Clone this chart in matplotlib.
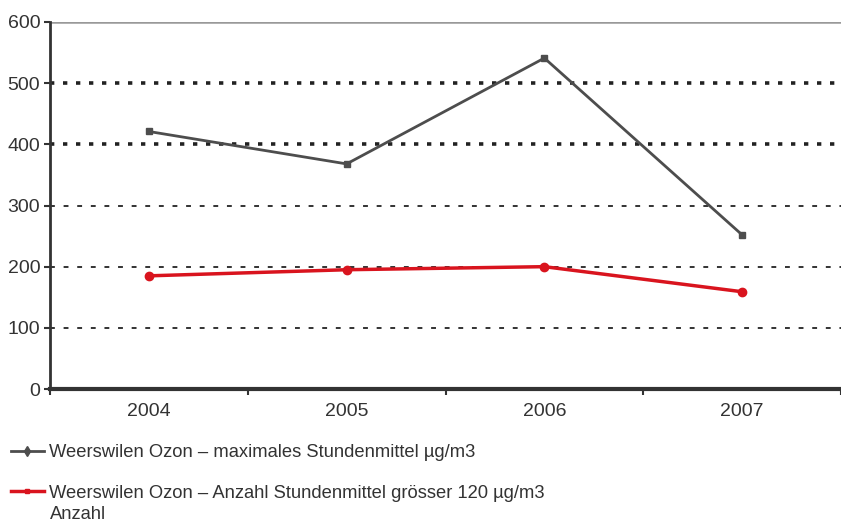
import matplotlib
matplotlib.use("Agg")
import matplotlib.pyplot as plt
from matplotlib.lines import Line2D

years = ["2004", "2005", "2006", "2007"]
max_stundenmittel = [421, 368, 541, 252]
anzahl_stundenmittel = [185, 195, 200, 159]
y_ticks = [0, 100, 200, 300, 400, 500, 600]
label_max = "Weerswilen Ozon – maximales Stundenmittel µg/m3"
label_anz = "Weerswilen Ozon – Anzahl Stundenmittel grösser 120 µg/m3"
label_anz2 = "Anzahl"

plt.rcParams['font.family'] = ['Liberation Sans', 'DejaVu Sans']

fig = plt.figure(figsize=(8.41, 5.23), dpi=100)
ax = fig.add_axes([50/841, 1-389/523, (841-50)/841, (389-22)/523])

x = list(range(len(years)))
ax.set_xlim(-0.5, 3.5)
ax.set_ylim(0, 600)

# grid lines
for v in y_ticks[1:]:
    if v in (400, 500):
        ax.axhline(v, color='#222222', lw=2.6, ls=(0, (1.2, 2.4)), zorder=1)
    elif v == 600:
        ax.axhline(v, color='#999999', lw=1.8, zorder=1)
    else:
        ax.axhline(v, color='#333333', lw=1.4, ls=(0, (2.5, 4.5)), zorder=1)

c_gray = '#4d4d4d'
c_red = '#d9141e'
ax.plot(x, max_stundenmittel, color=c_gray, lw=2, marker='s', ms=5, zorder=3)
ax.plot(x, anzahl_stundenmittel, color=c_red, lw=2.5, marker='o', ms=6, zorder=3)

fs_tick = 14
ax.set_yticks(y_ticks)
ax.set_yticklabels([str(v) for v in y_ticks], fontsize=fs_tick, color='#333333')
ax.set_xticks([i - 0.5 for i in range(len(years) + 1)])
ax.set_xticklabels([])
ax.set_xticks(x, minor=True)
ax.set_xticklabels(years, minor=True, fontsize=fs_tick, color='#333333')
ax.tick_params(axis='x', which='minor', length=0, pad=10)
ax.tick_params(axis='x', which='major', length=4, width=1.5, color='#333333', direction='out')
ax.tick_params(axis='y', length=4, width=1.5, color='#333333', pad=3)

for s in ['top', 'right']:
    ax.spines[s].set_visible(False)
ax.spines['left'].set_color('#333333')
ax.spines['left'].set_linewidth(2)
ax.spines['bottom'].set_color('#333333')
ax.spines['bottom'].set_linewidth(3)

fs_leg = 13.2
handles = [Line2D([], [], color=c_gray, lw=2, marker='d', ms=5),
           Line2D([], [], color=c_red, lw=2.5, marker='s', ms=3)]
leg = fig.legend(handles, [label_max, label_anz], loc='upper left',
                 bbox_to_anchor=(11/841, 1-444/523), frameon=False,
                 fontsize=fs_leg, labelspacing=1.3, handlelength=1.8,
                 handletextpad=0.27, borderaxespad=0, borderpad=0)
for t in leg.get_texts():
    t.set_color('#333333')
fig.text(50/841, 1-519/523, label_anz2, fontsize=fs_leg, color='#333333', va='baseline')

fig.savefig("out.png", dpi=100)
